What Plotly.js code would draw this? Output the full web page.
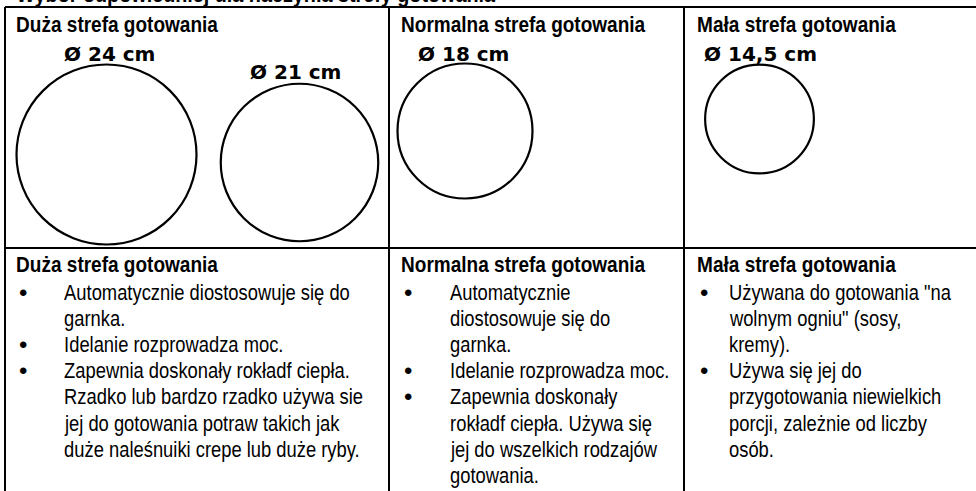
<!DOCTYPE html>
<html>
<head>
<meta charset="utf-8">
<script src="https://cdn.plot.ly/plotly-3.0.1.min.js"></script>
<style>html,body{margin:0;padding:0;background:#fff;overflow:hidden}#chart{width:976px;height:491px}</style>
</head>
<body>
<div id="chart"></div>
<script>
// ---- data ----
const pageTitle = "Wybór odpowiedniej dla naczynia strefy gotowania";
const zoneNames = ["Duża strefa gotowania", "Normalna strefa gotowania", "Mała strefa gotowania"];
const diameters = [24, 21, 18, 14.5];            // cm
const diameterLabels = ["Ø 24 cm", "Ø 21 cm", "Ø 18 cm", "Ø 14,5 cm"];
const bulletsDuza = [
  ["Automatycznie diostosowuje się do", "garnka."],
  ["Idelanie rozprowadza moc."],
  ["Zapewnia doskonały rokładf ciepła.", "Rzadko lub bardzo rzadko używa sie", "jej do gotowania potraw takich jak", "duże naleśnuiki crepe lub duże ryby."]
];
const bulletsNormalna = [
  ["Automatycznie", "diostosowuje się do", "garnka."],
  ["Idelanie rozprowadza moc."],
  ["Zapewnia doskonały", "rokładf ciepła. Używa się", "jej do wszelkich rodzajów", "gotowania."]
];
const bulletsMala = [
  ["Używana do gotowania \"na", "wolnym ogniu\" (sosy,", "kremy)."],
  ["Używa się jej do", "przygotowania niewielkich", "porcji, zależnie od liczby", "osób."]
];

// ---- layout (positions / styles) ----
const W = 976, H = 491;
const colX = [5, 389, 684];
const topY = 7, rowY = 248;
const ringCenters = [[106.5, 154.5], [299.5, 162.5], [465, 131], [759.5, 119]];
const labelPos = [[62, 53.5], [248, 71.5], [416, 53.5], [702, 53.5]];
const pxPerCm = 7.5;   // ring diameter in px per cm
const sans = "Liberation Sans, Arial, sans-serif";
const headFont = {family: sans, size: 22, color: "#000", weight: "bold"};
const bodyFont = {family: sans, size: 22, color: "#000"};
const labelFont = {family: "DejaVu Sans, Arial, sans-serif", size: 20, color: "#000", weight: "bold"};
const lineStyle = {color: "#000", width: 2};

const shapes = [];
shapes.push({type: "line", x0: colX[0], x1: W + 5, y0: topY, y1: topY, line: lineStyle});
shapes.push({type: "line", x0: colX[0], x1: W + 5, y0: rowY, y1: rowY, line: lineStyle});
colX.forEach(x => shapes.push({type: "line", x0: x, x1: x, y0: topY, y1: H + 5, line: lineStyle}));
diameters.forEach((d, i) => {
  const [cx, cy] = ringCenters[i];
  const rr = d * pxPerCm / 2;
  shapes.push({type: "circle", x0: cx - rr, x1: cx + rr, y0: cy - rr, y1: cy + rr, line: {color: "#000", width: 2.2}});
});

const ann = [], squeeze = [];
function txt(text, x, y, font, sx) {
  ann.push({text: text, x: x, y: y, xref: "x", yref: "y", xanchor: "left", yanchor: "middle", showarrow: false, font: font});
  squeeze.push(sx || 1);
}
// page title, cut by the top edge (paper reference so it is not hidden)
ann.push({text: pageTitle, x: 14 / W, y: 1 + 5 / H, xref: "paper", yref: "paper", xanchor: "left", yanchor: "middle",
  showarrow: false, font: headFont});
squeeze.push(0.9);
const headX = [14, 399, 695];
zoneNames.forEach((z, i) => { txt(z, headX[i], 24, headFont, 0.865); txt(z, headX[i], 264, headFont, 0.865); });
diameterLabels.forEach((l, i) => txt(l, labelPos[i][0], labelPos[i][1], labelFont, 1));

const bulletX = [[17, 62], [402, 448], [698, 727]];
const lineY0 = 292, pitch = 26.2;
[bulletsDuza, bulletsNormalna, bulletsMala].forEach((list, c) => {
  let n = 0;
  list.forEach(item => {
    item.forEach((line, k) => {
      const y = lineY0 + n * pitch;
      if (k === 0) txt("•", bulletX[c][0], y, {family: sans, size: 24, color: "#000"}, 1);
      txt(line, bulletX[c][1], y, bodyFont, 0.835);
      n++;
    });
  });
});

Plotly.newPlot("chart", [], {
  width: W, height: H,
  margin: {l: 0, r: 0, t: 0, b: 0},
  paper_bgcolor: "#fff", plot_bgcolor: "#fff",
  xaxis: {range: [0, W], visible: false, fixedrange: true},
  yaxis: {range: [H, 0], visible: false, fixedrange: true},
  shapes: shapes, annotations: ann, showlegend: false
}, {staticPlot: true, displayModeBar: false}).then(gd => {
  // condensed look: squeeze text horizontally about its left edge
  gd.querySelectorAll(".annotation").forEach(g => {
    const i = +g.getAttribute("data-index");
    const s = squeeze[i];
    if (!s || s === 1) return;
    const t = g.querySelector("text.annotation-text");
    if (!t) return;
    const bb = t.getBBox();
    const prev = t.getAttribute("transform") || "";
    t.setAttribute("transform", prev + " translate(" + bb.x + ",0) scale(" + s + ",1) translate(" + (-bb.x) + ",0)");
  });
});
</script>
</body>
</html>
